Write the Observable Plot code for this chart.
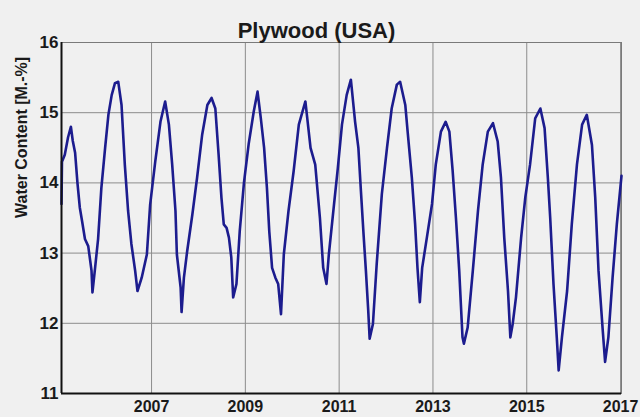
<!DOCTYPE html>
<html>
<head>
<meta charset="utf-8">
<script src="https://cdn.jsdelivr.net/npm/d3@7"></script>
<script src="https://cdn.jsdelivr.net/npm/@observablehq/plot@0.6"></script>
<style>
  html, body { margin: 0; padding: 0; background: #f0f0f0; }
  #chart { width: 640px; height: 417px; overflow: hidden; }
</style>
</head>
<body>
<div id="chart"></div>
<script>
const title = "Plywood (USA)";
const yLabel = "Water Content [M.-%]";
const xTicks = [2007, 2009, 2011, 2013, 2015, 2017];
const yTicks = [11, 12, 13, 14, 15, 16];

const years = [
  2005.08, 2005.09, 2005.15, 2005.22, 2005.28, 2005.32, 2005.37, 2005.42, 2005.47, 2005.52,
  2005.58, 2005.65, 2005.72, 2005.74, 2005.79, 2005.86, 2005.93, 2006.01, 2006.08, 2006.15,
  2006.22, 2006.29, 2006.36, 2006.43, 2006.50, 2006.57, 2006.65, 2006.70, 2006.79, 2006.90,
  2006.97, 2007.08, 2007.19, 2007.29, 2007.37, 2007.44, 2007.51, 2007.54, 2007.62, 2007.64,
  2007.69, 2007.76, 2007.87, 2007.97, 2008.08, 2008.19, 2008.28, 2008.36, 2008.43, 2008.49,
  2008.54, 2008.60, 2008.65, 2008.70, 2008.74, 2008.81, 2008.88, 2008.97, 2009.07, 2009.18,
  2009.26, 2009.33, 2009.40, 2009.46, 2009.51, 2009.57, 2009.64, 2009.70, 2009.76, 2009.82,
  2009.92, 2010.03, 2010.14, 2010.28, 2010.39, 2010.49, 2010.59, 2010.66, 2010.73, 2010.78,
  2010.89, 2010.97, 2011.06, 2011.16, 2011.25, 2011.34, 2011.41, 2011.46, 2011.52, 2011.57,
  2011.62, 2011.65, 2011.72, 2011.80, 2011.91, 2012.02, 2012.12, 2012.23, 2012.30, 2012.41,
  2012.46, 2012.55, 2012.62, 2012.67, 2012.72, 2012.77, 2012.87, 2012.98, 2013.06, 2013.17,
  2013.27, 2013.35, 2013.42, 2013.49, 2013.56, 2013.63, 2013.66, 2013.74, 2013.85, 2013.96,
  2014.06, 2014.17, 2014.28, 2014.38, 2014.45, 2014.52, 2014.60, 2014.65, 2014.70, 2014.77,
  2014.88, 2014.97, 2015.07, 2015.18, 2015.29, 2015.38, 2015.45, 2015.50, 2015.57, 2015.64,
  2015.68, 2015.75, 2015.86, 2015.96, 2016.07, 2016.18, 2016.28, 2016.39, 2016.46, 2016.53,
  2016.62, 2016.67, 2016.74, 2016.83, 2016.92, 2017.02
];
const water = [
  13.70, 14.30, 14.40, 14.65, 14.80, 14.60, 14.43, 14.00, 13.65, 13.45,
  13.20, 13.10, 12.75, 12.44, 12.75, 13.20, 13.93, 14.50, 14.97, 15.25,
  15.42, 15.44, 15.11, 14.26, 13.60, 13.13, 12.75, 12.46, 12.65, 12.98,
  13.69, 14.31, 14.87, 15.16, 14.83, 14.26, 13.60, 12.98, 12.51, 12.16,
  12.65, 13.03, 13.55, 14.07, 14.69, 15.11, 15.21, 15.06, 14.40, 13.79,
  13.41, 13.36, 13.22, 12.94, 12.37, 12.56, 13.31, 14.00, 14.55, 15.02,
  15.30, 14.92, 14.50, 13.93, 13.31, 12.79, 12.65, 12.56, 12.13, 12.98,
  13.60, 14.17, 14.83, 15.16, 14.50, 14.26, 13.50, 12.79, 12.56, 12.98,
  13.69, 14.20, 14.83, 15.25, 15.47, 14.87, 14.50, 13.93, 13.27, 12.75,
  12.18, 11.78, 11.99, 12.84, 13.84, 14.50, 15.06, 15.40, 15.44, 15.11,
  14.73, 14.07, 13.41, 12.79, 12.30, 12.79, 13.22, 13.70, 14.26, 14.73,
  14.87, 14.73, 14.17, 13.50, 12.75, 11.80, 11.71, 11.94, 12.75, 13.60,
  14.26, 14.73, 14.85, 14.59, 14.07, 13.22, 12.46, 11.80, 11.99, 12.37,
  13.22, 13.80, 14.26, 14.92, 15.06, 14.78, 14.07, 13.50, 12.56, 11.80,
  11.33, 11.80, 12.46, 13.41, 14.26, 14.83, 14.97, 14.54, 13.79, 12.75,
  11.90, 11.45, 11.80, 12.65, 13.41, 14.10
];

const data = years.map((t, i) => ({t, v: water[i]}));
const font = "'Liberation Sans', Arial, sans-serif";

const chart = Plot.plot({
  width: 640,
  height: 417,
  marginTop: 42,
  marginBottom: 24,
  marginLeft: 61,
  marginRight: 19,
  style: {background: "#f0f0f0", fontFamily: font, fontSize: "16px", fontWeight: "bold", color: "#1a1a1a"},
  x: {domain: [2005.08, 2017.02]},
  y: {domain: [11, 16]},
  marks: [
    Plot.gridX(xTicks, {stroke: "#8c8c8c", strokeOpacity: 1, strokeWidth: 1}),
    Plot.gridY(yTicks, {stroke: "#8c8c8c", strokeOpacity: 1, strokeWidth: 1}),
    Plot.frame({stroke: "#7a7a7a", strokeWidth: 1}),
    Plot.line(data, {x: "t", y: "v", stroke: "#1c1c8e", strokeWidth: 2.6, strokeLinejoin: "round"}),
    Plot.ruleX([2005.08], {stroke: "#111", strokeWidth: 2}),
    Plot.ruleY([11], {stroke: "#111", strokeWidth: 2}),
    Plot.axisX(xTicks, {tickSize: 0, tickPadding: 7, tickFormat: d => String(d), label: null, fontSize: 16, fontWeight: "bold", fill: "#1a1a1a"}),
    Plot.axisY(yTicks, {tickSize: 0, tickPadding: 3, tickFormat: d => String(d), label: null, fontSize: 17, fontWeight: "bold", fill: "#1a1a1a"}),
    Plot.text([yLabel], {text: d => d, frameAnchor: "left", dx: -40, rotate: -90, fontSize: 16, fontWeight: "bold", fill: "#1a1a1a"}),
    Plot.text([title], {text: d => d, frameAnchor: "top", dx: -25, dy: -20, fontSize: 22, fontWeight: "bold", fill: "#1a1a1a"})
  ]
});
document.getElementById("chart").appendChild(chart);
</script>
</body>
</html>
